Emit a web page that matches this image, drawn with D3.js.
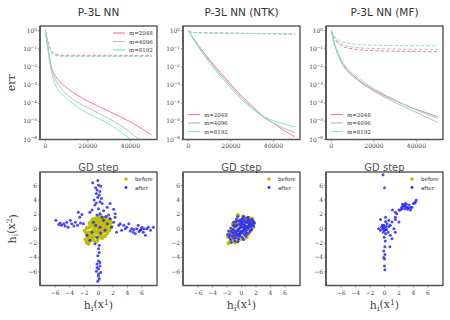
<!DOCTYPE html>
<html lang="en">
<head>
  <meta charset="UTF-8">
  <title>P-3L NN</title>
  <script src="https://d3js.org/d3.v7.min.js"></script>
  <style>
    body { margin: 0; background: #fff; }
    svg { display: block; }
    .tick-lab { font-family: 'DejaVu Serif', serif; font-size: 6px; fill: #444; }
    .title { font-family: 'DejaVu Sans', sans-serif; font-size: 10.5px; fill: #333; }
    .xlab { font-family: 'DejaVu Sans', sans-serif; font-size: 10px; fill: #555; }
    .mathlab { font-family: 'DejaVu Serif', serif; font-size: 11px; fill: #444; }
    .leg { font-family: 'DejaVu Serif', serif; font-size: 5.5px; fill: #333; }
    .leg2 { font-family: 'DejaVu Sans', sans-serif; font-size: 5.5px; fill: #333; }
  </style>
</head>
<body>
<script>
// ---- data: loss curves, pairs of [GD step, log10(err)] ----
var titles = ["P-3L NN", "P-3L NN (NTK)", "P-3L NN (MF)"];
var widths = ["m=2048", "m=4096", "m=8192"];
var colors = ["#ff6eb4", "#bdbdbd", "#72f2b4"];
var stepTicks = [0, 20000, 40000];
var errTicks = [0, -1, -2, -3, -4, -5, -6];
var hTicks = [-6, -4, -2, 0, 2, 4, 6];

// P-3L NN
var nnTrain = [
  [[0,0],[1000,-0.7],[2000,-1.5],[3000,-2.05],[4000,-2.35],[6000,-2.7],[9000,-3.05],[15000,-3.55],[20000,-3.88],[25000,-4.17],[30000,-4.45],[35000,-4.73],[40000,-5.03],[45000,-5.37],[50000,-5.75]],
  [[0,0],[1000,-0.75],[2000,-1.6],[3000,-2.2],[4000,-2.52],[6000,-2.95],[9000,-3.4],[12000,-3.7],[16000,-4.0],[20000,-4.25],[25000,-4.55],[30000,-4.85],[35000,-5.2],[40000,-5.6],[44000,-6.0],[50000,-6.6]],
  [[0,0],[1000,-0.8],[2000,-1.7],[3000,-2.35],[4600,-2.95],[7000,-3.4],[10000,-3.75],[13000,-4.02],[17000,-4.35],[22000,-4.68],[28000,-5.02],[32000,-5.3],[36000,-5.62],[40000,-6.0],[45000,-6.5]]
];
var nnTest = [
  [[0,0],[1000,-0.5],[2000,-0.88],[3000,-1.13],[4500,-1.28],[7000,-1.35],[15000,-1.36],[30000,-1.36],[50000,-1.36]],
  [[0,0],[1000,-0.52],[2000,-0.92],[3000,-1.17],[4500,-1.31],[7000,-1.38],[15000,-1.39],[30000,-1.39],[50000,-1.39]],
  [[0,0],[1000,-0.55],[2000,-0.95],[3000,-1.2],[4500,-1.34],[7000,-1.41],[15000,-1.42],[30000,-1.42],[50000,-1.42]]
];
// P-3L NN (NTK)
var ntkTrain = [
  [[0,0],[2000,-0.35],[5000,-0.85],[10000,-1.6],[15000,-2.3],[20000,-2.95],[25000,-3.6],[30000,-4.15],[35000,-4.7],[40000,-5.1],[45000,-5.5],[50000,-5.85]],
  [[0,0],[2000,-0.37],[5000,-0.9],[10000,-1.68],[15000,-2.4],[20000,-3.05],[25000,-3.7],[30000,-4.25],[35000,-4.75],[40000,-5.1],[45000,-5.38],[50000,-5.62]],
  [[0,0],[2000,-0.4],[5000,-0.95],[10000,-1.78],[15000,-2.5],[20000,-3.15],[25000,-3.8],[30000,-4.3],[35000,-4.7],[40000,-4.97],[45000,-5.15],[50000,-5.3]]
];
var ntkTest = [
  [[0,0],[1000,-0.07],[3000,-0.1],[10000,-0.12],[20000,-0.14],[35000,-0.16],[50000,-0.18]],
  [[0,0],[1000,-0.07],[3000,-0.1],[10000,-0.12],[20000,-0.14],[35000,-0.16],[50000,-0.18]],
  [[0,0],[1000,-0.07],[3000,-0.1],[10000,-0.12],[20000,-0.14],[35000,-0.16],[50000,-0.18]]
];
// P-3L NN (MF)
var mfTrain = [
  [[0,0],[1000,-0.55],[2500,-1.1],[4000,-1.55],[6300,-2.0],[10000,-2.45],[14300,-2.85],[22000,-3.4],[30000,-3.85],[38000,-4.25],[44000,-4.5],[50000,-4.75]],
  [[0,0],[1000,-0.55],[2500,-1.1],[4000,-1.58],[6300,-2.05],[10000,-2.5],[14300,-2.9],[22000,-3.47],[30000,-3.95],[38000,-4.4],[44000,-4.72],[50000,-5.05]],
  [[0,0],[1000,-0.5],[2500,-1.0],[4000,-1.45],[6300,-1.88],[10000,-2.35],[14300,-2.75],[22000,-3.33],[30000,-3.82],[38000,-4.27],[44000,-4.56],[50000,-4.85]]
];
var mfTest = [
  [[0,0],[1000,-0.3],[2500,-0.6],[5000,-0.85],[10000,-1.0],[20000,-1.1],[30000,-1.13],[40000,-1.15],[50000,-1.16]],
  [[0,0],[1000,-0.28],[2500,-0.55],[5000,-0.75],[10000,-0.9],[20000,-0.98],[30000,-1.01],[40000,-1.02],[50000,-1.03]],
  [[0,0],[1000,-0.25],[2500,-0.45],[5000,-0.62],[10000,-0.73],[20000,-0.8],[30000,-0.82],[40000,-0.83],[50000,-0.83]]
];

// ---- data: features h_i(x^1), h_i(x^2) before / after training ----
var nnBefore = [
  [-1.8,-1.5],[-1.6,-1.9],[-1.4,-2.1],[-1.2,-1.7],[-1.0,-1.3],[-1.5,-1.2],[-1.9,-0.3],[-1.6,0.1],[-1.3,-0.5],[-1.1,0.3],
  [-0.9,-0.8],[-0.8,0.6],[-0.7,-0.2],[-0.6,-1.1],[-0.5,0.9],[-0.4,0.2],[-0.3,-0.6],[-0.2,1.3],[-0.1,-1.5],[0,0],
  [0.1,0.5],[0.2,-0.3],[0.3,1.0],[0.4,-0.9],[0.5,0.3],[0.6,1.5],[0.7,-0.4],[0.8,0.8],[0.9,-0.1],[1.0,1.2],
  [1.1,0.4],[1.2,-0.6],[1.3,0.9],[1.4,0.1],[1.5,0.6],[1.7,0.9],[1.8,0.3],[0.3,1.8],[0,1.6],[-0.4,1.4],
  [-0.9,1.0],[-1.2,0.8],[0.5,-1.3],[0.1,-1.0],[-0.3,-1.8],[-0.7,-1.6],[0.9,-1.0],[1.3,-0.3],[-1.5,-0.8],[-1.7,-0.6],
  [0.6,0.0],[-0.2,0.5],[0.4,0.7],[-0.6,0.4],[0.2,-0.7],[-0.9,-0.4],[1.0,0.0],[0.7,1.1],[-0.1,1.0],[-1.1,-1.0],
  [-0.5,-0.3],[0.0,-0.4],[1.6,1.3],[1.1,1.6],[-1.3,0.2],[-0.8,1.3],[0.2,1.3],[-1.6,-1.5],[1.5,-0.2],[0.8,0.4]
];
var nnAfter = [
  [-0.8,6.4],[-0.1,6.7],[0,6.1],[-0.2,5.4],[0.2,5.2],[-0.3,4.9],[0.1,4.7],[-0.1,4.4],[-0.6,4.0],[0.2,3.75],
  [-0.5,3.3],[0.5,3.5],[0,2.8],[1.6,3.5],[1.2,3.0],[2.1,2.7],[-0.9,2.6],[0.7,2.5],[0.2,2.1],[-1.2,2.3],
  [2.3,2.1],[1.4,1.9],[-0.2,1.9],[-2.8,2.3],[-2.3,2.0],[-2.6,1.6],[0.3,5.9],[-0.4,5.7],[0.4,4.2],[-0.3,3.6],
  [-5.9,1.2],[-5.3,0.8],[-4.8,0.7],[-4.4,0.9],[-5.1,0.5],[-4.2,0.2],[-3.7,0.7],[-3.2,0.9],[-2.9,0.5],[-2.5,0.8],
  [-5.5,0.6],[-3.9,1.2],[-2.1,0.7],[-4.6,0.4],[-3.4,0.4],
  [3.0,0.7],[3.5,0.5],[3.9,0.2],[4.2,0.7],[4.6,0],[4.8,-0.5],[5.3,0],[5.8,-0.2],[6.0,0.2],[6.2,-0.5],
  [6.7,0],[7.2,-0.2],[7.6,0.2],[6.5,-0.9],[5.1,-0.7],[5.5,0.5],[6.9,0.2],[4.4,-0.3],[2.5,-0.5],[3.2,-0.2],
  [3.7,0],[2.8,0.5],[5.9,-0.1],[6.3,0.0],[5.6,-0.4],[4.9,-0.1],
  [0,-2.8],[0.1,-3.3],[-0.1,-3.75],[0,-4.5],[-0.2,-4.9],[0.2,-5.2],[0,-5.6],[-0.3,-5.9],[0.3,-6.1],[0,-6.6],
  [0.1,-7.0],[-0.1,-7.3],[0.2,-4.7],[-0.2,-5.4],[0,-6.3],[0.1,-2.3],
  [-0.7,0.9],[0.2,0.2],[0.7,1.2],[1.2,0.7],[-0.9,-0.5],[-0.2,-1.2],[1.6,1.4],[2.1,0.9],[1.8,0.2],[-1.2,-1.6],
  [-0.5,-2.1],[0.9,-0.2],[-1.6,-0.9],[2.3,1.6],[0.5,1.6],[0.3,-0.6],[1.0,1.7],[-0.4,0.5]
];
var ntkBefore = [
  [-1.8,-2.0],[-1.5,-1.6],[-1.9,-1.1],[-1.3,-1.0],[-1.1,-1.5],[-0.9,-0.6],[-1.4,-0.3],[-1.0,0.2],[-0.7,-1.1],[-0.5,-0.2],
  [-0.3,-0.8],[-0.6,0.6],[-0.5,1.9],[-0.2,1.2],[-0.1,0.3],[0,-0.4],[0.2,0.8],[0.3,-0.2],[0.4,1.4],[0.5,0.4],
  [0.6,-0.6],[0.8,0.9],[0.9,0.1],[1.0,1.5],[1.1,0.6],[1.2,1.2],[1.4,0.8],[1.5,1.4],[1.7,0.9],[1.3,-0.2],
  [0.7,-1.2],[0.1,-1.4],[-0.4,-1.6],[-0.8,1.0],[0.2,1.7],[-1.2,0.6],[0.9,-0.8],[-1.6,-0.5],[1.6,0.2],[-0.9,-1.9]
];
var ntkAfter = [
  [-1.5,-1.5],[-1.3,-1.0],[-1.6,-0.8],[-1.1,-1.3],[-0.9,-0.5],[-1.2,-0.1],[-0.9,0.3],[-0.7,-0.9],[-0.5,-0.2],[-0.3,-0.7],
  [-0.6,0.5],[-0.5,1.7],[-0.3,1.1],[-0.1,0.3],[0,-0.4],[0.2,0.7],[0.3,-0.2],[0.4,1.2],[0.5,0.4],[0.6,-0.5],
  [0.7,0.9],[0.9,0.1],[1.0,1.3],[1.1,0.6],[1.2,1.0],[1.4,0.7],[1.5,1.2],[1.6,0.6],[1.2,-0.2],[0.6,-1.0],
  [0.1,-1.2],[-0.4,-1.4],[-0.8,0.9],[0.2,1.5],[-1.1,0.5],[0.8,-0.7],[-1.4,-0.4],[-0.2,-1.0],[0.3,0.2],[-0.4,0.0],
  [0.0,0.6],[0.5,0.9],[-0.7,-0.4],[0.8,0.3],[-0.2,-0.4],[0.1,-0.6],[1.0,0.4],[-1.0,-0.9],[0.4,-0.8],[-0.6,1.1],
  [-1.8,-0.3],[1.8,0.8],[0.7,1.5],[-0.1,0.9],[-0.9,-1.7],[1.3,0.3],
  [-1.7,-1.2],[-1.4,-1.9],[-1.2,-0.6],[-1.0,-0.2],[-0.8,0.4],[-0.6,-0.7],[-0.4,-1.0],[-0.2,0.1],[0.0,0.2],[0.2,-0.3],
  [0.4,0.5],[0.6,0.1],[0.8,1.1],[1.0,0.8],[1.2,0.4],[1.4,1.3],[1.6,1.0],[-1.5,0.1],[-1.1,0.9],[-0.8,-1.3],
  [-0.3,0.7],[0.1,1.0],[0.3,-1.5],[0.7,-0.2],[1.1,-0.5],[-0.5,-1.8],[0.0,1.3],[0.5,0.0],[-0.2,-0.7],[0.9,1.6],
  [1.7,0.4],[-1.9,-0.8],[-0.7,1.4],[0.3,1.7],[1.4,-0.1]
];
var mfBefore = [
  [0,0],[0.05,-0.03],[-0.04,0.02],[0.02,0.05],[-0.03,-0.05]
];
var mfAfter = [
  [-0.2,7.5],[0,5.7],
  [2.0,2.6],[2.4,3.0],[2.7,3.3],[2.9,3.5],[2.4,2.8],[3.1,3.0],[3.4,3.3],[3.6,2.6],[3.8,3.0],[4.0,3.5],
  [4.3,3.75],[4.4,4.0],[4.2,3.6],[1.5,2.3],[1.1,2.6],[1.7,2.1],[2.8,2.8],[3.0,3.4],[2.2,2.6],[3.6,2.95],
  [2.6,3.15],[2.5,3.4],[3.2,2.7],[2.9,3.1],[3.3,2.9],
  [-0.55,1.3],[0.15,1.0],[0.6,1.2],[1.05,0.95],[1.5,1.3],[2.0,0.95],[0.8,0.5],[1.3,0],[1.5,-0.5],[-0.3,0.5],
  [-0.4,0.2],[-0.2,0],[0.05,-0.2],[-0.1,0.2],[0.2,0.3],[0.35,0.7],[0.5,-0.5],[0.8,-0.9],[1.05,-1.4],[0.15,-0.7],
  [-0.05,-1.2],[-0.15,-0.5],[-0.55,-0.2],[-0.8,0],[-0.1,0.5],[1.5,1.6],[0.15,1.6],[0.6,0.3],[0.0,-0.1],[0.3,-0.1],
  [0.05,-2.5],[-0.1,-3.1],[0.05,-3.6],[0,-4.2],[0,-5.2],[0.05,-5.7],[-0.1,-4.0],[0.75,-2.5],[0.1,-1.7]
];

var lossPanels = [[nnTrain, nnTest], [ntkTrain, ntkTest], [mfTrain, mfTest]];
var featPanels = [[nnBefore, nnAfter], [ntkBefore, ntkAfter], [mfBefore, mfAfter]];

var W = 450, H = 320;
var panelX = [40, 183, 326];
var pw = 117, topY = 26, topH = 113.5, botY = 172, botH = 113.5;

var svg = d3.select("body").append("svg")
  .attr("width", W)
  .attr("height", H);

var defs = svg.append("defs");

var x = d3.scaleLinear().domain([-2500, 52500]).range([0, pw]);
var y = d3.scaleLog().domain([1e-6, Math.pow(10, 0.26)]).range([topH, 0]);
var hx = d3.scaleLinear().domain([-8.1, 8.1]).range([0, pw]);
var hy = d3.scaleLinear().domain([-7.9, 7.9]).range([botH, 0]);

var line = d3.line()
  .x(function (d) { return x(d[0]); })
  .y(function (d) { return y(Math.pow(10, d[1])); })
  .curve(d3.curveMonotoneX);

function sup(sel, base, exp) {
  sel.append("tspan").text(base);
  sel.append("tspan").attr("dy", "-0.5em").attr("font-size", "0.7em").text(exp);
}

function frame(g, h) {
  g.append("rect")
    .attr("width", pw).attr("height", h)
    .attr("fill", "none").attr("stroke", "#111").attr("stroke-width", 1);
  g.append("path")
    .attr("d", "M0,0V" + h + "H" + pw)
    .attr("fill", "none").attr("stroke", "#555").attr("stroke-width", 1.6);
}

// ---- top row: err vs GD step ----
lossPanels.forEach(function (p, i) {
  var g = svg.append("g").attr("transform", "translate(" + panelX[i] + "," + topY + ")");

  defs.append("clipPath").attr("id", "clip" + i)
    .append("rect").attr("width", pw).attr("height", topH);

  var plot = g.append("g").attr("clip-path", "url(#clip" + i + ")");

  // test (dashed) then train (solid)
  p[1].forEach(function (s, k) {
    plot.append("path").datum(s)
      .attr("d", line).attr("fill", "none")
      .attr("stroke", colors[k]).attr("stroke-width", 1)
      .attr("stroke-dasharray", "3.5,1.8");
  });
  p[0].forEach(function (s, k) {
    plot.append("path").datum(s)
      .attr("d", line).attr("fill", "none")
      .attr("stroke", colors[k]).attr("stroke-width", 1);
  });

  frame(g, topH);

  // y ticks
  errTicks.forEach(function (e) {
    var yy = y(Math.pow(10, e));
    g.append("line").attr("x1", -2).attr("x2", 0).attr("y1", yy).attr("y2", yy)
      .attr("stroke", "#555").attr("stroke-width", 0.6);
    var t = g.append("text").attr("class", "tick-lab")
      .attr("x", -3).attr("y", yy + 2).attr("text-anchor", "end");
    sup(t, "10", e === 0 ? "0" : "−" + (-e));
  });
  // x ticks
  stepTicks.forEach(function (s) {
    g.append("line").attr("x1", x(s)).attr("x2", x(s)).attr("y1", topH).attr("y2", topH + 2)
      .attr("stroke", "#555").attr("stroke-width", 0.6);
    g.append("text").attr("class", "tick-lab")
      .attr("x", x(s)).attr("y", topH + 8.5).attr("text-anchor", "middle").text(s);
  });

  g.append("text").attr("class", "title")
    .attr("x", pw / 2).attr("y", -10).attr("text-anchor", "middle").text(titles[i]);
  g.append("text").attr("class", "xlab")
    .attr("x", pw / 2).attr("y", topH + 31).attr("text-anchor", "middle").text("GD step");

  // legend
  var lx = i === 0 ? 73 : 5, ly = i === 0 ? 7 : 88.5;
  widths.forEach(function (m, k) {
    g.append("line")
      .attr("x1", lx).attr("x2", lx + 12)
      .attr("y1", ly + k * 8.5).attr("y2", ly + k * 8.5)
      .attr("stroke", colors[k]).attr("stroke-width", 1.2);
    g.append("text").attr("class", "leg")
      .attr("x", lx + 16).attr("y", ly + k * 8.5 + 2).text(m);
  });
});

var errLab = svg.append("text").attr("class", "mathlab")
  .attr("transform", "translate(15," + (topY + topH / 2) + ") rotate(-90)")
  .attr("text-anchor", "middle").text("err");

// ---- bottom row: features ----
featPanels.forEach(function (p, i) {
  var g = svg.append("g").attr("transform", "translate(" + panelX[i] + "," + botY + ")");

  g.selectAll(".before").data(p[0]).enter().append("circle")
    .attr("class", "before")
    .attr("cx", function (d) { return hx(d[0]); })
    .attr("cy", function (d) { return hy(d[1]); })
    .attr("r", 2.1)
    .attr("fill", "#bfbf00");

  g.selectAll(".after").data(p[1]).enter().append("circle")
    .attr("class", "after")
    .attr("cx", function (d) { return hx(d[0]); })
    .attr("cy", function (d) { return hy(d[1]); })
    .attr("r", 1.5)
    .attr("fill", "#2a2aff")
    .attr("opacity", 0.85);

  frame(g, botH);

  hTicks.forEach(function (v) {
    g.append("line").attr("x1", hx(v)).attr("x2", hx(v)).attr("y1", botH).attr("y2", botH + 2)
      .attr("stroke", "#555").attr("stroke-width", 0.6);
    g.append("text").attr("class", "tick-lab")
      .attr("x", hx(v)).attr("y", botH + 9).attr("text-anchor", "middle")
      .text(v < 0 ? "−" + (-v) : v);
    g.append("line").attr("x1", -2).attr("x2", 0).attr("y1", hy(v)).attr("y2", hy(v))
      .attr("stroke", "#555").attr("stroke-width", 0.6);
    g.append("text").attr("class", "tick-lab")
      .attr("x", -3).attr("y", hy(v) + 2).attr("text-anchor", "end")
      .text(v < 0 ? "−" + (-v) : v);
  });

  var t = g.append("text").attr("class", "mathlab")
    .attr("x", pw / 2).attr("y", botH + 23.5).attr("text-anchor", "middle");
  t.append("tspan").text("h");
  t.append("tspan").attr("dy", "0.3em").attr("font-size", "0.7em").text("i");
  t.append("tspan").attr("dy", "-0.3em").text("(x");
  t.append("tspan").attr("dy", "-0.45em").attr("font-size", "0.7em").text("1");
  t.append("tspan").attr("dy", "0.45em").text(")");

  // legend
  var lx = pw - 31;
  g.append("circle").attr("cx", lx).attr("cy", 7).attr("r", 1.8).attr("fill", "#bfbf00");
  g.append("text").attr("class", "leg2").attr("x", lx + 9).attr("y", 9).text("before");
  g.append("circle").attr("cx", lx).attr("cy", 15.5).attr("r", 1.4).attr("fill", "#2a2aff");
  g.append("text").attr("class", "leg2").attr("x", lx + 9).attr("y", 17.5).text("after");
});

var hLab = svg.append("text").attr("class", "mathlab")
  .attr("transform", "translate(16," + (botY + botH / 2) + ") rotate(-90)")
  .attr("text-anchor", "middle");
hLab.append("tspan").text("h");
hLab.append("tspan").attr("dy", "0.3em").attr("font-size", "0.7em").text("i");
hLab.append("tspan").attr("dy", "-0.3em").text("(x");
hLab.append("tspan").attr("dy", "-0.45em").attr("font-size", "0.7em").text("2");
hLab.append("tspan").attr("dy", "0.45em").text(")");
</script>
</body>
</html>
